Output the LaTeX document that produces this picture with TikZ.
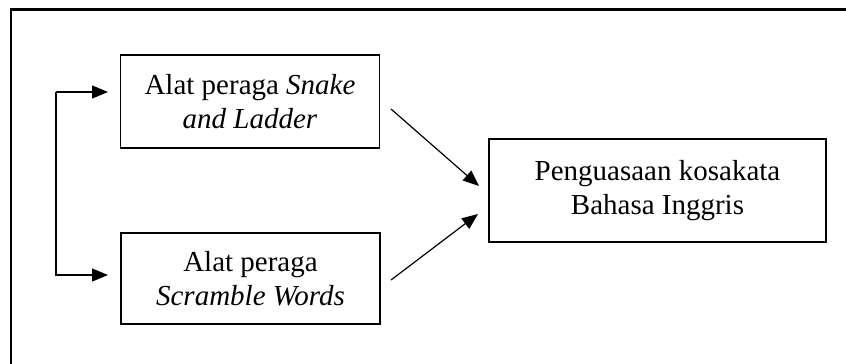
\documentclass[tikz,border=0pt]{standalone}
\usepackage{fontspec}
\setmainfont{Liberation Serif}
\usetikzlibrary{arrows.meta}
\begin{document}
\begin{tikzpicture}[x=1pt,y=-1pt,
  box/.style={draw, line width=1.8pt, inner sep=0pt, align=center,
    font=\fontsize{29}{34.5}\selectfont},
  link/.style={line width=1.2pt, -{Triangle[length=16pt,width=13pt]}},
  frameline/.style={line width=2.6pt}]
  \useasboundingbox (0,0) rectangle (846,364);

  % outer frame (only its top and left sides show)
  \draw[frameline] (11,364) -- (11,9.5) -- (846,9.5);

  % boxes
  \node[box, minimum width=259pt, minimum height=93pt] (snake) at (250,101.5)
    {Alat peraga \textit{Snake}\\\textit{and Ladder}};
  \node[box, minimum width=259pt, minimum height=91pt] (scramble) at (250.5,278.5)
    {Alat peraga\\\textit{Scramble Words}};
  \node[box, minimum width=337pt, minimum height=103pt] (vocab) at (657.5,190.5)
    {Penguasaan kosakata\\Bahasa Inggris};

  % bracket linking the two teaching aids
  \coordinate (c1) at (56,92);
  \coordinate (c2) at (56,275);
  \coordinate (t1) at (121,92);
  \coordinate (t2) at (121,275);
  \draw[link] (c1) -- (c2) -- (t2) [shorten >=13pt];
  \draw[link, shorten >=13pt] (c1) -- (t1);

  % arrows into the outcome box
  \coordinate (s1) at (391,109);
  \coordinate (e1) at (479,186);
  \coordinate (s2) at (391,280);
  \coordinate (e2) at (478,214);
  \draw[link] (s1) -- (e1);
  \draw[link] (s2) -- (e2);
\end{tikzpicture}
\end{document}
